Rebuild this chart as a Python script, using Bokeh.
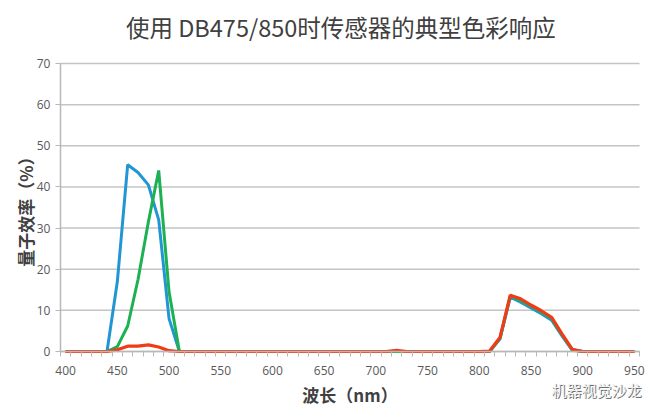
from bokeh.plotting import figure
from bokeh.models import Range1d, FixedTicker
from bokeh.core.properties import value
from bokeh.embed import file_html
from bokeh.resources import INLINE

wavelength = [400, 410, 420, 430, 440, 450, 460, 470, 480, 490,
              500, 510, 520, 530, 540, 550, 560, 570, 580, 590,
              600, 610, 620, 630, 640, 650, 660, 670, 680, 690,
              700, 710, 720, 730, 740, 750, 760, 770, 780, 790,
              800, 810, 820, 830, 840, 850, 860, 870, 880, 890,
              900, 910, 920, 930, 940, 950]

blue = [0, 0, 0, 0, 0, 17, 45.4, 43.5, 40.5, 32,
        8, 0, 0, 0, 0, 0, 0, 0, 0, 0,
        0, 0, 0, 0, 0, 0, 0, 0, 0, 0,
        0, 0, 0, 0, 0, 0, 0, 0, 0, 0,
        0, 0, 3.0, 13.2, 12.0, 10.6, 9.2, 7.6, 3.8, 0.3,
        0, 0, 0, 0, 0, 0]

green = [0, 0, 0, 0, 0, 1.2, 6.2, 17.5, 31.5, 44,
         14.5, 0, 0, 0, 0, 0, 0, 0, 0, 0,
         0, 0, 0, 0, 0, 0, 0, 0, 0, 0,
         0, 0, 0, 0, 0, 0, 0, 0, 0, 0,
         0, 0, 3.2, 13.5, 12.4, 11.0, 9.6, 8.0, 4.1, 0.4,
         0, 0, 0, 0, 0, 0]

red = [0, 0, 0, 0, 0, 0.4, 1.3, 1.3, 1.6, 1.1,
       0.2, 0, 0, 0, 0, 0, 0, 0, 0, 0,
       0, 0, 0, 0, 0, 0, 0, 0, 0, 0,
       0, 0, 0.3, 0, 0, 0, 0, 0, 0, 0,
       0, 0.1, 3.4, 13.7, 12.8, 11.3, 9.9, 8.3, 4.3, 0.5,
       0, 0, 0, 0, 0, 0]

x_labels = [400, 450, 500, 550, 600, 650, 700, 750, 800, 850, 900, 950]
x_minor = [395 + 10 * i for i in range(57)]
y_ticks = [0, 10, 20, 30, 40, 50, 60, 70]
x_axis_bounds = (395, 955)
y_axis_bounds = (0, 70)

title_text = "使用  DB475/850时传感器的典型色彩响应"
x_title = "波长（nm）"
y_title = "量子效率（%）"
watermark = "机器视觉沙龙"

# the frame covers the whole canvas; axes are fixed inside it and bounded,
# so the title and footer text can be drawn as text marks
p = figure(frame_width=653, frame_height=410, output_backend="svg", toolbar_location=None,
           x_range=Range1d(337.0, 968.5), y_range=Range1d(-14.34, 85.31),
           min_border_left=0, min_border_right=0, min_border_top=0, min_border_bottom=0)

p.outline_line_color = None
p.background_fill_color = "white"

p.xaxis.ticker = FixedTicker(ticks=x_labels, minor_ticks=x_minor)
p.yaxis.ticker = FixedTicker(ticks=y_ticks)
for ax in (p.xaxis, p.yaxis):
    ax.axis_line_color = "#b8b8b8"
    ax.axis_line_width = 1.5
    ax.major_label_text_font = "Open Sans"
    ax.major_label_text_font_size = "12px"
    ax.major_label_text_color = "#595959"
    ax.axis_label_text_font = "Noto Sans CJK SC"
    ax.axis_label_text_font_size = "17px"
    ax.axis_label_text_font_style = "bold"
    ax.axis_label_text_color = "#404040"

p.xaxis.fixed_location = 0
p.xaxis.bounds = x_axis_bounds
p.xaxis.major_tick_line_color = None
p.xaxis.minor_tick_line_color = "#b8b8b8"
p.xaxis.minor_tick_out = 5
p.xaxis.minor_tick_in = 0
p.xaxis.major_label_standoff = 9
p.xaxis.axis_label = x_title
p.xaxis.axis_label_standoff = 3

p.yaxis.fixed_location = 395
p.yaxis.bounds = y_axis_bounds
p.yaxis.major_tick_line_color = "#b8b8b8"
p.yaxis.major_tick_out = 5
p.yaxis.major_tick_in = 0
p.yaxis.minor_tick_line_color = None
p.yaxis.major_label_standoff = 5
p.yaxis.axis_label = y_title
p.yaxis.axis_label_standoff = -4

p.xgrid.grid_line_color = None
p.ygrid.grid_line_color = None

# horizontal gridlines at the y ticks, spanning the x axis extent
p.segment(x0=[x_axis_bounds[0]] * len(y_ticks), y0=y_ticks,
          x1=[x_axis_bounds[1]] * len(y_ticks), y1=y_ticks,
          line_color="#c4c4c4", line_width=1.5, level="underlay")

p.line(wavelength, blue, line_color="#2196d3", line_width=3)
p.line(wavelength, green, line_color="#1db153", line_width=3)
p.line(wavelength, red, line_color="#f03c16", line_width=3.2)

p.text(x=[668.7], y=[78.75], text=[title_text], text_font=value("Noto Sans CJK SC"),
       text_font_size="23.5px", text_color="#404040", text_align="center",
       text_baseline="middle")

p.text(x=[869.8], y=[-9.24], text=[watermark], text_font=value("Noto Sans CJK SC"),
       text_font_size="15px", text_color="#6e6e6e", text_align="left",
       text_baseline="middle", x_offset=1, y_offset=1)
p.text(x=[869.8], y=[-9.24], text=[watermark], text_font=value("Noto Sans CJK SC"),
       text_font_size="15px", text_color="#f2f2f2", text_align="left",
       text_baseline="middle")

open("out.html", "w").write(file_html(p, INLINE))
